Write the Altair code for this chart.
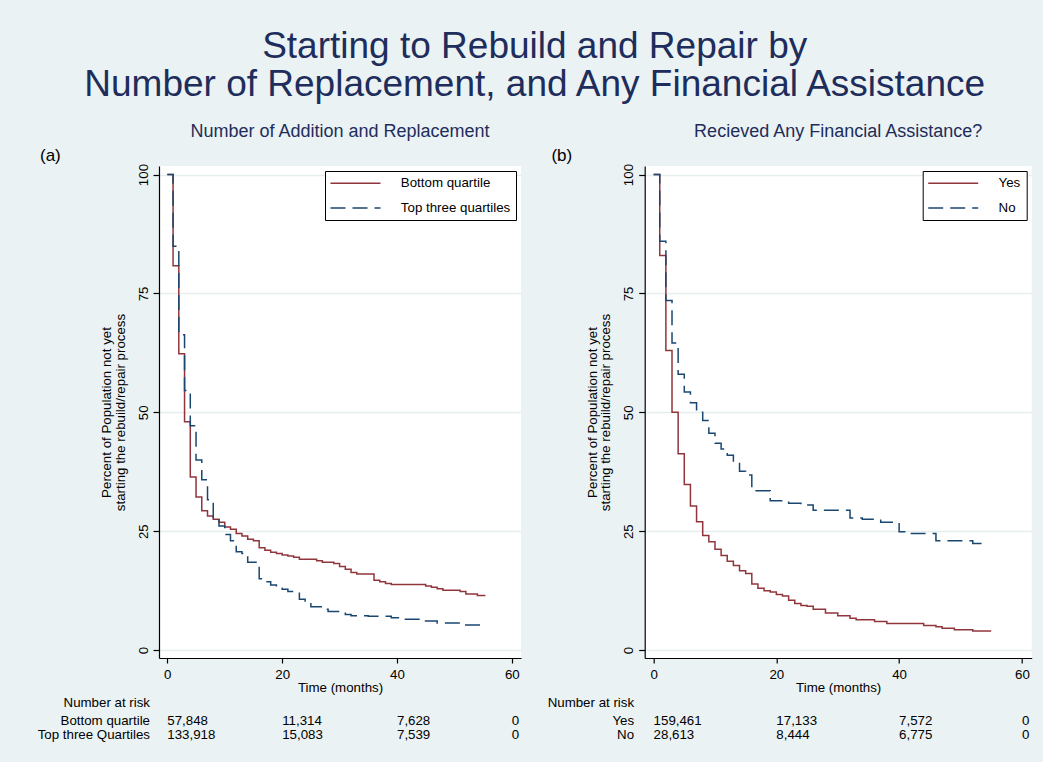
import altair as alt
import pandas as pd

FONT = "Liberation Sans"
BG = "#EAF2F3"
GRID = "#E6EEF0"
TITLE_COLOR = "#1E2D5B"
RED = "#90353B"
BLUE = "#1A476F"

# ---------------- data ----------------
x_ticks = [0, 20, 40, 60]
y_ticks = [0, 25, 50, 75, 100]
risk_times = [0, 20, 40, 60]

# Panel (a): Number of Addition and Replacement
a_groups = ["Bottom quartile", "Top three quartiles"]
a_bottom_t = [0, 1, 2, 3, 4, 5, 6, 7, 8, 9, 10, 11, 12, 13, 14, 15, 16, 17, 18, 19, 20, 21, 22, 23,
              26, 27, 29, 30, 31, 32, 33, 36, 37, 38, 39, 45, 46, 47, 48, 51, 52, 54, 55.4]
a_bottom_s = [100, 80.8, 62.3, 48.0, 36.4, 32.2, 29.3, 28.2, 27.5, 26.9, 25.9, 25.4, 24.5, 24.0, 23.3,
              23.0, 21.5, 21.0, 20.6, 20.3, 20.0, 19.8, 19.5, 19.1,
              18.8, 18.5, 18.2, 17.6, 17.0, 16.3, 16.0, 14.7, 14.4, 14.0, 13.8, 13.5, 13.2, 12.9, 12.6,
              12.3, 11.8, 11.5, 11.5]
a_top_t = [0, 1, 2, 3, 4, 5, 6, 7, 8, 9, 10, 11, 12, 13, 14, 16, 17, 18, 19, 20, 21,
           23, 24, 25, 27, 28, 31, 32, 35, 39, 41, 44, 47, 51, 55.4]
a_top_s = [100, 84.9, 66.3, 54.6, 47.2, 40.0, 35.8, 31.6, 27.9, 26.1, 24.3, 23.0, 20.7, 20.3, 18.5,
           15.0, 14.4, 13.7, 13.0, 12.8, 12.3,
           10.7, 10.1, 9.1, 8.6, 8.1, 7.5, 7.2, 7.1, 6.8, 6.5, 6.1, 5.7, 5.3, 5.2]
a_risk_labels = ["Bottom quartile", "Top three Quartiles"]
a_risk_bottom = [57848, 11314, 7628, 0]
a_risk_top = [133918, 15083, 7539, 0]

# Panel (b): Recieved Any Financial Assistance?
b_groups = ["Yes", "No"]
b_yes_t = [0, 1, 2, 3, 4, 5, 6, 7, 8, 9, 10, 11, 12, 13, 14, 15, 16, 17, 18, 19, 20, 21, 22, 23, 24,
           25, 26, 28, 30, 32, 33, 36, 38, 44, 46, 47, 49, 52, 55]
b_yes_s = [100, 83.0, 63.0, 50.0, 41.3, 34.8, 30.3, 27.0, 24.1, 22.8, 21.2, 19.9, 18.7, 17.8, 16.7,
           16.1, 13.9, 13.0, 12.5, 12.2, 11.7, 11.4, 10.5, 9.8, 9.4, 9.2, 8.6,
           7.8, 7.2, 6.7, 6.4, 6.0, 5.6, 5.2, 4.9, 4.6, 4.3, 4.0, 4.0]
b_no_t = [0, 1, 2, 3, 4, 5, 6, 7, 8, 9, 10, 11, 12, 13, 14, 15, 16, 19, 22, 24, 26,
          32, 34, 37, 40, 42, 46, 52, 54]
b_no_s = [100, 86.0, 73.5, 64.6, 58.0, 54.3, 52.0, 50.0, 48.3, 45.6, 43.5, 42.3, 41.0, 39.6, 37.6,
          36.8, 33.5, 31.4, 30.9, 30.5, 29.4,
          27.8, 27.5, 26.9, 24.9, 24.5, 23.0, 22.4, 21.9]
b_risk_labels = ["Yes", "No"]
b_risk_yes = [159461, 17133, 7572, 0]
b_risk_no = [28613, 8444, 6775, 0]

main_title = ["Starting to Rebuild and Repair by",
              "Number of Replacement, and Any Financial Assistance"]
y_title = ["Percent of Population not yet", "starting the rebuild/repair process"]

PLOT_H = 492
ROW_Y = [540.9, 558.5, 573.2]


def km_panel(tag, subtitle, groups, curves, risk_labels, risk_counts, width, label_dx, tag_dx):
    x_enc = alt.X(
        "t:Q",
        scale=alt.Scale(domain=[-1.45, 61.6], nice=False, zero=False),
        axis=alt.Axis(values=x_ticks, title="Time (months)", grid=False, tickSize=5, tickWidth=1.2,
                      tickColor="black", domainColor="black", domainWidth=1.2, labelFont=FONT,
                      labelFontSize=13.3, labelColor="black", labelPadding=4, labelFlush=False,
                      titleFont=FONT, titleFontSize=13.3, titleFontWeight="normal",
                      titleColor="black", titlePadding=0),
    )
    y_enc = alt.Y(
        "s:Q",
        scale=alt.Scale(domain=[-1.66, 101.8], nice=False, zero=False),
        axis=alt.Axis(values=y_ticks, title=y_title, grid=True, gridColor=GRID, gridWidth=1.5,
                      tickSize=6, tickWidth=1.2, tickColor="black", domainColor="black",
                      domainWidth=1.2, labelFont=FONT, labelFontSize=13.3, labelColor="black",
                      labelAngle=270, labelAlign="center", labelBaseline="bottom", labelPadding=3,
                      titleFont=FONT, titleFontSize=13.3, titleFontWeight="normal",
                      titleColor="black", titlePadding=9, titleLineHeight=13.5),
    )
    legend = alt.Legend(title=None, orient="top-right", offset=5, padding=5.5, rowPadding=10.8,
                        strokeColor="black", fillColor="white", symbolType="M-5,0H5",
                        symbolSize=100, symbolStrokeWidth=1.5, symbolOffset=18.35,
                        labelOffset=38.7, labelFont=FONT, labelFontSize=13.3,
                        labelColor="black", labelLimit=300)
    frames = [pd.DataFrame({"t": ts, "s": ss, "group": g}) for g, (ts, ss) in zip(groups, curves)]
    df = pd.concat(frames, ignore_index=True)
    lines = alt.Chart(df).mark_line(interpolate="step-after", strokeWidth=1.5).encode(
        x=x_enc,
        y=y_enc,
        color=alt.Color("group:N", scale=alt.Scale(domain=groups, range=[RED, BLUE]), legend=legend),
        strokeDash=alt.StrokeDash("group:N", scale=alt.Scale(domain=groups, range=[[1, 0], [15, 7]]),
                                  legend=legend),
    )
    txt = dict(font=FONT, fontSize=13.3, color="black", baseline="alphabetic")
    layers = [lines]
    layers.append(
        alt.Chart(pd.DataFrame({"label": ["Number at risk"]})).mark_text(align="right", **txt).encode(
            x=alt.value(label_dx), y=alt.value(ROW_Y[0]), text="label:N")
    )
    for lab, counts, yy in zip(risk_labels, risk_counts, ROW_Y[1:]):
        layers.append(
            alt.Chart(pd.DataFrame({"label": [lab]})).mark_text(align="right", **txt).encode(
                x=alt.value(label_dx), y=alt.value(yy), text="label:N")
        )
        layers.append(
            alt.Chart(pd.DataFrame({"t": risk_times, "n": counts})).mark_text(align="left", **txt).encode(
                x=x_enc, y=alt.value(yy), text=alt.Text("n:Q", format=","))
        )
    layers.append(
        alt.Chart(pd.DataFrame({"label": [tag]})).mark_text(
            align="left", baseline="middle", font=FONT, fontSize=17, color="black").encode(
            x=alt.value(tag_dx), y=alt.value(-10), text="label:N")
    )
    return alt.layer(*layers).properties(
        width=width, height=PLOT_H,
        title=alt.TitleParams(subtitle, font=FONT, fontSize=18, fontWeight="normal",
                              color=TITLE_COLOR, anchor="middle", offset=6),
    )


panel_a = km_panel("(a)", "Number of Addition and Replacement", a_groups,
                   [(a_bottom_t, a_bottom_s), (a_top_t, a_top_s)],
                   a_risk_labels, [a_risk_bottom, a_risk_top], 362, -9, -119)
panel_b = km_panel("(b)", "Recieved Any Financial Assistance?", b_groups,
                   [(b_yes_t, b_yes_s), (b_no_t, b_no_s)],
                   b_risk_labels, [b_risk_yes, b_risk_no], 387, -10.6, -93.3)

chart = alt.hconcat(panel_a, panel_b, spacing=25.7).resolve_scale(
    color="independent", strokeDash="independent"
).resolve_legend(
    color="independent", strokeDash="independent"
).properties(
    title=alt.TitleParams(main_title, font=FONT, fontSize=37, fontWeight="normal",
                          color=TITLE_COLOR, anchor="middle", lineHeight=38, offset=19.5),
    padding={"left": 37, "right": 11, "top": 27, "bottom": 20},
    background=BG,
).configure_view(fill="white", stroke=None)

chart.save("out.html", embed_options={"renderer": "svg", "actions": False})
